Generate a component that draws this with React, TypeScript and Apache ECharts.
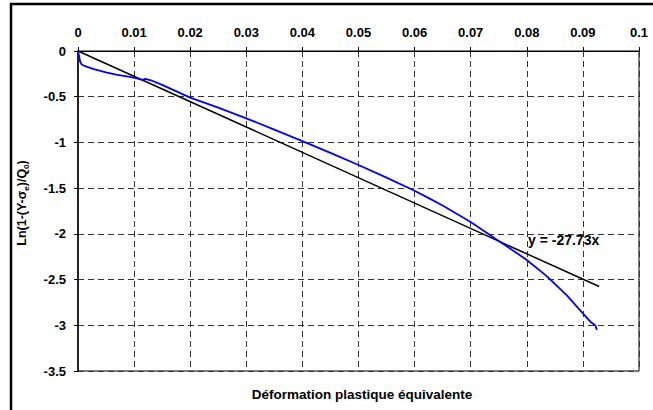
import React, { useEffect, useRef } from "react";
import * as echarts from "echarts";

const curveX = [0, 0.0002, 0.0004, 0.0007, 0.0015, 0.003, 0.005, 0.007, 0.009, 0.0105, 0.0115, 0.012, 0.013, 0.015, 0.02, 0.025, 0.03, 0.035, 0.04, 0.045, 0.05, 0.055, 0.06, 0.0627, 0.065, 0.07, 0.0752, 0.078, 0.08, 0.0835, 0.0871, 0.09, 0.0915, 0.0922, 0.0925];
const curveY = [0, -0.06, -0.12, -0.15, -0.17, -0.2, -0.235, -0.26, -0.28, -0.3, -0.315, -0.305, -0.32, -0.37, -0.51, -0.62, -0.736, -0.86, -0.985, -1.115, -1.247, -1.385, -1.528, -1.615, -1.69, -1.87, -2.086, -2.2, -2.286, -2.46, -2.67, -2.87, -2.97, -3.0, -3.05];
const fitX = [0, 0.0929];
const slope = -27.73;
const xTicks = { min: 0, max: 0.1, interval: 0.01 };
const yTicks = { min: -3.5, max: 0, interval: 0.5 };
const equationText = "y = -27.73x";
const xTitle = "Déformation plastique équivalente";

const FONT = "'Liberation Sans', Arial, sans-serif";

export default function App() {
  const ref = useRef<HTMLDivElement>(null);
  useEffect(() => {
    if (!ref.current) return;
    const chart = echarts.init(ref.current, undefined, { renderer: "svg" });
    const curve = curveX.map((x, i) => [x, curveY[i]]);
    const fit = fitX.map((x) => [x, slope * x]);
    chart.setOption({
      animation: false,
      backgroundColor: "#fff",
      textStyle: { fontFamily: FONT },
      grid: {
        left: 78,
        right: 14,
        top: 51,
        bottom: 39,
        show: true,
        borderColor: "#000",
        borderWidth: 1,
        backgroundColor: "#fff",
      },
      xAxis: {
        type: "value",
        position: "top",
        min: xTicks.min,
        max: xTicks.max,
        interval: xTicks.interval,
        axisLine: { show: true, onZero: false, lineStyle: { color: "#000", width: 1 } },
        axisTick: { show: true, length: 4, inside: false, lineStyle: { color: "#000" } },
        axisLabel: {
          margin: 12,
          fontSize: 13,
          fontWeight: "bold",
          color: "#000",
          fontFamily: FONT,
          formatter: (v: number) => String(+v.toFixed(2)),
        },
        splitLine: { show: true, lineStyle: { color: "#333", type: [6, 4], width: 1 } },
      },
      yAxis: {
        type: "value",
        min: yTicks.min,
        max: yTicks.max,
        interval: yTicks.interval,
        axisLine: { show: true, onZero: false, lineStyle: { color: "#222", width: 2 } },
        axisTick: { show: true, length: 4, lineStyle: { color: "#000" } },
        axisLabel: {
          margin: 12,
          fontSize: 13,
          fontWeight: "bold",
          color: "#000",
          fontFamily: FONT,
          formatter: (v: number) => String(+v.toFixed(1)),
        },
        splitLine: { show: true, lineStyle: { color: "#333", type: [6, 4], width: 1 } },
      },
      series: [
        {
          type: "line",
          data: fit,
          showSymbol: false,
          lineStyle: { color: "#000", width: 1.5 },
          z: 3,
        },
        {
          type: "line",
          data: curve,
          showSymbol: false,
          lineStyle: { color: "#0000ff", width: 1.8 },
          z: 4,
        },
      ],
      graphic: [
        {
          type: "rect",
          shape: { x: 11, y: 4, width: 700, height: 500 },
          style: { fill: "none", stroke: "#000", lineWidth: 2.5 },
          silent: true,
        },
        {
          type: "text",
          x: 528,
          y: 240,
          style: {
            text: equationText,
            fontSize: 14,
            fontWeight: "bold",
            fontFamily: FONT,
            fill: "#000",
            verticalAlign: "middle",
            textAlign: "left",
          },
        },
        {
          type: "text",
          x: 362,
          y: 394,
          style: {
            text: xTitle,
            fontSize: 13.5,
            fontWeight: "bold",
            fontFamily: FONT,
            fill: "#000",
            textAlign: "center",
            verticalAlign: "middle",
          },
        },
        {
          type: "text",
          x: 22,
          y: 203,
          rotation: Math.PI / 2,
          style: {
            rich: {
              a: { fontSize: 12.5, fontWeight: "bold", fontFamily: FONT, fill: "#000", lineHeight: 16 },
              s: { fontSize: 8, fontWeight: "bold", fontFamily: FONT, fill: "#000", lineHeight: 16, verticalAlign: "bottom" },
            },
            text: "{a|Ln(1-(Y-σ}{s|e}{a|)/Q}{s|0}{a|)}",
            textAlign: "center",
            verticalAlign: "middle",
          },
        },
      ],
    });
    return () => chart.dispose();
  }, []);
  return (
    <div
      ref={ref}
      style={{ position: "absolute", left: 0, top: 0, width: 653, height: 410 }}
    />
  );
}
